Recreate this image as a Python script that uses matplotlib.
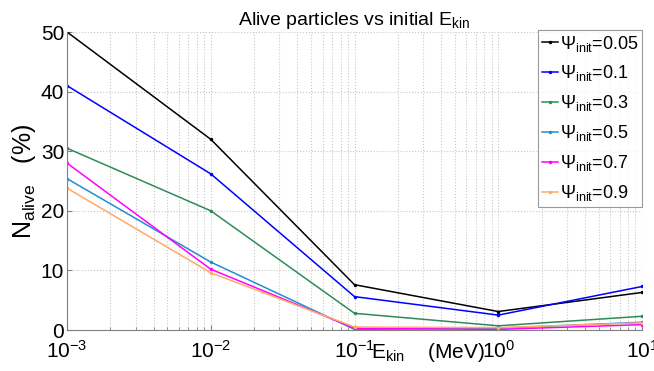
import numpy as np
import matplotlib.pyplot as plt
from matplotlib.ticker import FixedLocator, LogLocator, NullFormatter

plt.rcParams['font.family'] = ['Liberation Sans', 'DejaVu Sans']
plt.rcParams['mathtext.fontset'] = 'custom'
plt.rcParams['mathtext.rm'] = 'Liberation Sans'
plt.rcParams['mathtext.it'] = 'Liberation Sans'

# кинетическая энергия (МэВ)
e_kin = [1e-3, 1e-2, 1e-1, 1e0, 1e1]
psi_init = ['0.05', '0.1', '0.3', '0.5', '0.7', '0.9']
alive_005 = [50.0, 32.0, 7.6, 3.1, 6.3]
alive_01 = [41.0, 26.2, 5.6, 2.5, 7.3]
alive_03 = [30.5, 20.0, 2.8, 0.7, 2.3]
alive_05 = [25.4, 11.4, 0.1, 0.3, 1.3]
alive_07 = [28.0, 10.2, 0.3, 0.1, 0.9]
alive_09 = [23.8, 9.6, 0.5, 0.4, 1.2]
series = [alive_005, alive_01, alive_03, alive_05, alive_07, alive_09]
colors = ['black', '#0000ff', '#2e8b57', '#1f8fd0', '#ff00ff', '#ffaa66']
xticklabels = [r'$10^{-3}$', r'$10^{-2}$', r'$10^{-1}$', r'$10^{0}$', r'$10^{1}$']

fig = plt.figure(figsize=(6.54, 3.71), dpi=100)
ax = fig.add_axes([67/654, 1-330/371, 575/654, 298/371])

for vals, c, p in zip(series, colors, psi_init):
    ax.plot(e_kin, vals, color=c, lw=1.1, marker='.', ms=3,
            label=r'$\Psi_{\mathrm{init}}$=' + p)

ax.set_xscale('log')
ax.set_xlim(1e-3, 1e1)
ax.set_ylim(0, 50)
ax.yaxis.set_major_locator(FixedLocator([0, 10, 20, 30, 40, 50]))
ax.xaxis.set_major_locator(FixedLocator(e_kin))
ax.set_xticklabels(xticklabels)
ax.xaxis.set_minor_locator(LogLocator(base=10, subs=np.arange(2, 10)))
ax.xaxis.set_minor_formatter(NullFormatter())

ax.grid(True, which='both', axis='x', ls=':', color='#c8c8c8', lw=0.8)
ax.grid(True, which='major', axis='y', ls=':', color='#c8c8c8', lw=0.8)
ax.tick_params(axis='both', which='both', direction='in', colors='#808080')
ax.tick_params(axis='y', labelsize=15, labelcolor='black', pad=2)
ax.tick_params(axis='x', labelsize=15, labelcolor='black', pad=7)
for s in ['top', 'right']:
    ax.spines[s].set_visible(False)
for s in ['left', 'bottom']:
    ax.spines[s].set_color('#808080')

ax.set_title(r'Alive particles vs initial E$_{\mathrm{kin}}$', fontsize=14, pad=5)
ax.set_ylabel(r'N$_{\mathrm{alive}}$   (%)', fontsize=18, labelpad=2)
ax.text(0.628, -0.075, r'E$_{\mathrm{kin}}$    (MeV)', transform=ax.transAxes,
        ha='center', va='center', fontsize=15)

leg = ax.legend(loc='upper right', bbox_to_anchor=(1.0, 1.007), fontsize=13,
                handlelength=0.9, handletextpad=0.1, borderpad=0.2,
                labelspacing=0.55, fancybox=False, borderaxespad=0)
leg.get_frame().set_edgecolor('#808080')
leg.get_frame().set_linewidth(0.8)

fig.savefig('out.png', dpi=100)
